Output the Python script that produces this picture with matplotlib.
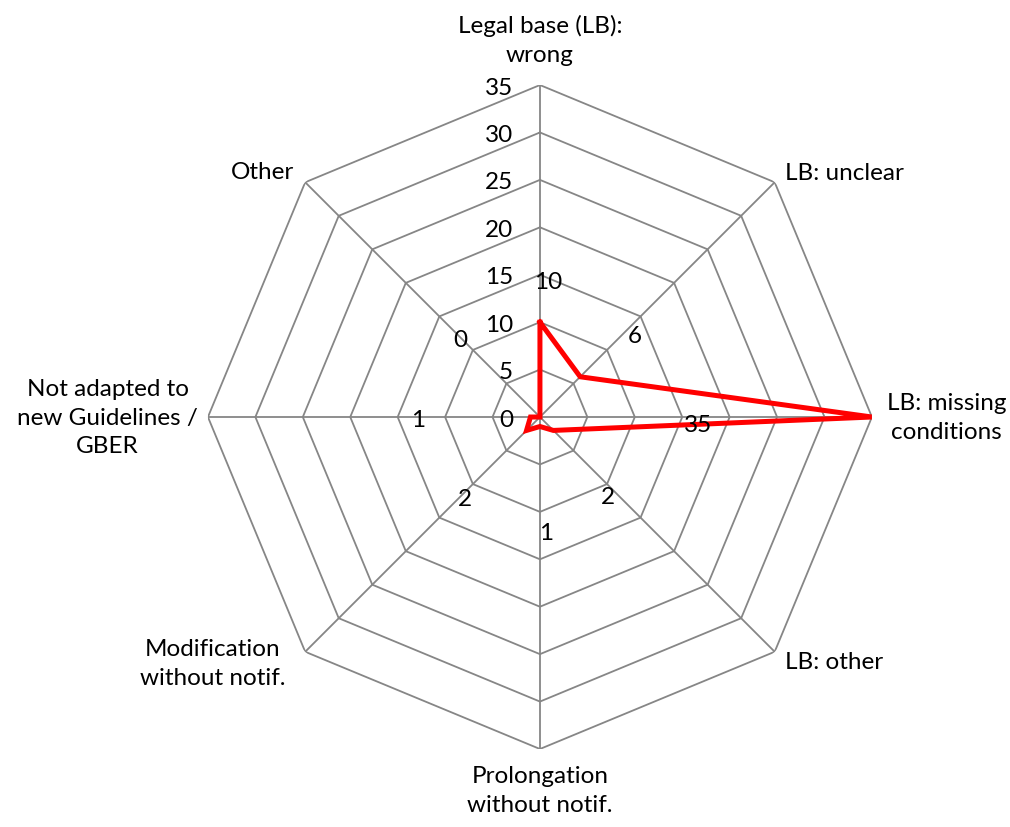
import numpy as np
import matplotlib
matplotlib.use("Agg")
import matplotlib.pyplot as plt

# -----------------------------
# DATA
# -----------------------------
categories = [
    "Legal base (LB):\nwrong",
    "LB: unclear",
    "LB: missing\nconditions",
    "LB: other",
    "Prolongation\nwithout notif.",
    "Modification\nwithout notif.",
    "Not adapted to\nnew Guidelines /\nGBER",
    "Other",
]
values = [10, 6, 35, 2, 1, 2, 1, 0]
r_ticks = [0, 5, 10, 15, 20, 25, 30, 35]

# where the value labels sit, relative to their point (pixels)
label_offsets = [(8, 43), (55, 43), (-174, -5), (55, -64),
                 (6, -104), (-62, -66), (-112, 0), (-80, 80)]

# category label placement: (dx, dy, ha, va)
cat_layout = [
    (0, 20, "center", "bottom"),
    (10, 10, "left", "center"),
    (15, 0, "left", "center"),
    (10, -10, "left", "center"),
    (0, -16, "center", "top"),
    (-20, -11, "right", "center"),
    (-10, 0, "right", "center"),
    (-11, 11, "right", "center"),
]

plt.rcParams["font.family"] = ["Lato", "DejaVu Sans"]
FS = 17.5
GRID = "#868686"

# -----------------------------
# PLOT
# -----------------------------
fig = plt.figure(figsize=(10.1, 8.28), dpi=100)
ax = fig.add_axes([0.2059, 0.0942, 0.6574, 0.8019], projection="polar")
ax.set_theta_zero_location("N")
ax.set_theta_direction(-1)
ax.set_ylim(0, 35)
ax.grid(False)
ax.set_xticks([])
ax.set_yticks([])
ax.spines["polar"].set_visible(False)

n = len(categories)
angles = np.linspace(0, 2 * np.pi, n, endpoint=False)
closed = np.append(angles, angles[0])

# octagon grid
for r in r_ticks[1:]:
    ax.plot(closed, [r] * (n + 1), color=GRID, lw=1.3, zorder=1)
for a in angles:
    ax.plot([a, a], [0, r_ticks[-1]], color=GRID, lw=1.3, zorder=1)

# radial tick labels along the top spoke
for r in r_ticks:
    ax.annotate(str(r), xy=(0, r), xytext=(-27, 0), textcoords="offset pixels",
                ha="right", va="center_baseline", fontsize=FS)

# data
vals = values + [values[0]]
ax.plot(closed, vals, color="#FF0000", lw=3.6, solid_joinstyle="miter", zorder=3)

for a, v, (dx, dy) in zip(angles, values, label_offsets):
    ax.annotate(str(v), xy=(a, v), xytext=(dx, dy), textcoords="offset pixels",
                ha="center", va="center_baseline", fontsize=FS, zorder=4)

for a, lab, (dx, dy, ha, va) in zip(angles, categories, cat_layout):
    ax.annotate(lab, xy=(a, r_ticks[-1]), xytext=(dx, dy), textcoords="offset pixels",
                ha=ha, va=va, multialignment="center", fontsize=FS,
                linespacing=1.45, annotation_clip=False)

fig.savefig("out.png", dpi=100)
